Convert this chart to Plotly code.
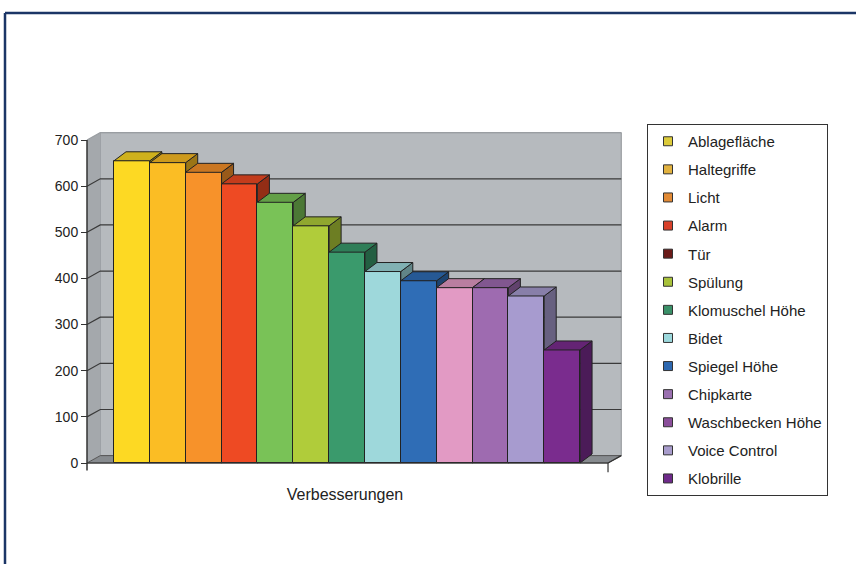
import plotly.graph_objects as go

# ---- data -------------------------------------------------------------
categories = [
    "Ablagefläche", "Haltegriffe", "Licht", "Alarm", "Tür", "Spülung",
    "Klomuschel Höhe", "Bidet", "Spiegel Höhe", "Chipkarte",
    "Waschbecken Höhe", "Voice Control", "Klobrille",
]
values = [655, 651, 630, 605, 565, 514, 457, 415, 395, 380, 380, 362, 245]
bar_colors = [
    "#FDD923", "#FBBD24", "#F7922A", "#EE4A23", "#79C257", "#B0CC3A",
    "#3A9A6C", "#9ED8DB", "#2F6DB6", "#E29AC4", "#9E6BB0", "#A79BCF",
    "#7A2C8E",
]
legend_colors = [
    "#DCCB3A", "#E2B23F", "#E28A35", "#D8402A", "#6A1A18", "#A8C23A",
    "#3A9068", "#9CD8DC", "#2E68B0", "#9A70B0", "#8A4E9A", "#A89CCC",
    "#6E2A8A",
]
y_ticks = [0, 100, 200, 300, 400, 500, 600, 700]
x_title = "Verbesserungen"

# ---- pseudo-3D geometry (axis units) ----------------------------------
BAR_DX, BAR_DY = 0.335, 19.5      # depth of each column
WALL_DX, WALL_DY = 0.37, 16.0     # depth of walls / floor
X_L, X_R = -1.253, 13.28          # front edges of the floor
Y_TOP = y_ticks[-1]
EDGE = "#222222"


def shade(hex_color, f):
    h = hex_color.lstrip("#")
    r, g, b = (int(h[i:i + 2], 16) for i in (0, 2, 4))
    return "#{:02X}{:02X}{:02X}".format(int(r * f), int(g * f), int(b * f))


fig = go.Figure()

# front faces
fig.add_trace(go.Bar(
    x=list(range(len(values))), y=values, width=1,
    marker=dict(color=bar_colors, line=dict(color=EDGE, width=1)),
    hovertext=categories, hoverinfo="text+y", showlegend=False,
))

# top faces (drawn above the front faces)
for i, (v, c) in enumerate(zip(values, bar_colors)):
    xl, xr = i - 0.5, i + 0.5
    fig.add_trace(go.Scatter(
        x=[xl, xr, xr + BAR_DX, xl + BAR_DX, xl],
        y=[v, v, v + BAR_DY, v + BAR_DY, v],
        mode="lines", fill="toself", fillcolor=shade(c, 0.82),
        line=dict(color=EDGE, width=1), hoverinfo="skip", showlegend=False,
    ))

# legend entries
for name, c in zip(categories, legend_colors):
    fig.add_trace(go.Scatter(
        x=[None], y=[None], mode="markers", name=name, legendgroup=name,
        marker=dict(symbol="square", size=9, color=c,
                    line=dict(color="#333333", width=1)),
    ))

# ---- walls, floor, grid -----------------------------------------------
shapes = []
# back wall
shapes.append(dict(type="rect", xref="x", yref="y", layer="below",
                   x0=X_L + WALL_DX, x1=X_R + WALL_DX,
                   y0=WALL_DY, y1=Y_TOP + WALL_DY,
                   fillcolor="#B6BABE", line=dict(color="#8E9296", width=1)))
# left side wall
shapes.append(dict(type="path", xref="x", yref="y", layer="below",
                   path=f"M {X_L},0 L {X_L + WALL_DX},{WALL_DY} "
                        f"L {X_L + WALL_DX},{Y_TOP + WALL_DY} L {X_L},{Y_TOP} Z",
                   fillcolor="#A4A8AC", line=dict(width=0)))
# floor
shapes.append(dict(type="path", xref="x", yref="y", layer="below",
                   path=f"M {X_L},0 L {X_R},0 L {X_R + WALL_DX},{WALL_DY} "
                        f"L {X_L + WALL_DX},{WALL_DY} Z",
                   fillcolor="#878B8F", line=dict(color="#555555", width=1)))
# gridlines on side wall and back wall
for t in y_ticks[1:]:
    col = "#9A9EA2" if t == Y_TOP else "#3A3A3A"
    shapes.append(dict(type="path", xref="x", yref="y", layer="below",
                       path=f"M {X_L},{t} L {X_L + WALL_DX},{t + WALL_DY} "
                            f"L {X_R + WALL_DX},{t + WALL_DY}",
                       line=dict(color=col, width=1.2)))
# column side faces: under the front faces, over the walls
for i, (v, c) in enumerate(zip(values, bar_colors)):
    x0 = i + 0.5
    shapes.append(dict(type="path", xref="x", yref="y", layer="below",
                       path=f"M {x0},0 L {x0 + BAR_DX},{BAR_DY} "
                            f"L {x0 + BAR_DX},{v + BAR_DY} L {x0},{v} Z",
                       fillcolor=shade(c, 0.62),
                       line=dict(color=EDGE, width=1)))
# value axis line and front floor edge
shapes.append(dict(type="line", xref="x", yref="y", x0=X_L, x1=X_L,
                   y0=-16, y1=Y_TOP, line=dict(color="#333333", width=1.5)))
shapes.append(dict(type="line", xref="x", yref="y", x0=X_L, x1=X_R,
                   y0=0, y1=0, line=dict(color="#333333", width=1.2)))
shapes.append(dict(type="line", xref="x", yref="y", x0=X_R, x1=X_R,
                   y0=0, y1=-20, line=dict(color="#333333", width=1.2)))
shapes.append(dict(type="line", xref="x", yref="y", x0=X_R, x1=X_R + WALL_DX,
                   y0=0, y1=WALL_DY, line=dict(color="#333333", width=1.2)))
# page frame
fy = 1 - 13 / 564
fx = 5 / 856
shapes.append(dict(type="line", xref="paper", yref="paper", x0=fx, x1=1.01,
                   y0=fy, y1=fy, line=dict(color="#1B3566", width=2.5)))
shapes.append(dict(type="line", xref="paper", yref="paper", x0=fx, x1=fx,
                   y0=fy, y1=-0.01, line=dict(color="#1B3566", width=2.5)))

fig.update_layout(
    width=856, height=564,
    margin=dict(l=0, r=0, t=0, b=0),
    paper_bgcolor="white", plot_bgcolor="white",
    font=dict(family="Arial, 'Liberation Sans', sans-serif", color="#222222"),
    bargap=0,
    shapes=shapes,
    xaxis=dict(domain=[40 / 856, 650 / 856], range=[-2.564, 14.451],
               showticklabels=False, showgrid=False, zeroline=False,
               ticks="", showline=False,
               title=dict(text=x_title, font=dict(size=16), standoff=8)),
    yaxis=dict(domain=[84 / 564, 444 / 564], range=[-36.84, 743.4],
               anchor="free", position=87 / 856,
               tickvals=y_ticks, ticks="outside", ticklen=6,
               tickcolor="#333333", tickwidth=1.2,
               showgrid=False, zeroline=False, showline=False,
               tickfont=dict(size=14)),
    legend=dict(x=647 / 856, y=1 - 124 / 564, xanchor="left", yanchor="top",
                bordercolor="#333333", borderwidth=1, bgcolor="white",
                font=dict(size=15), tracegroupgap=5.6, traceorder="grouped"),
)

fig.write_html("out.html")
